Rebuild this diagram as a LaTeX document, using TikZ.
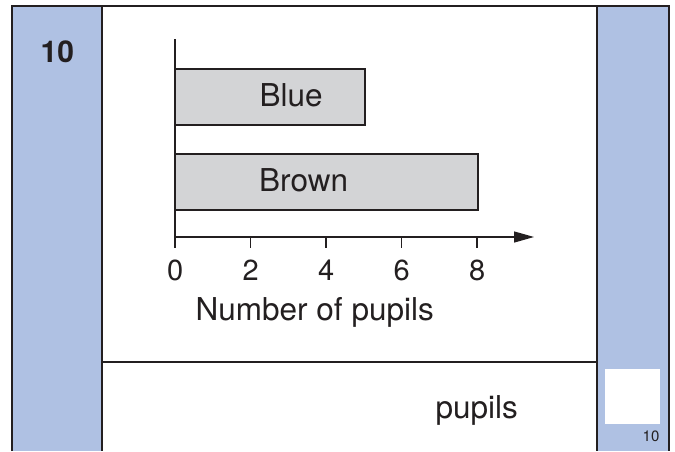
\documentclass[tikz,border=0pt]{standalone}
\usepackage{fontspec}
\setmainfont{TeX Gyre Heros}
\usetikzlibrary{arrows.meta}
\definecolor{panelblue}{RGB}{175,193,227}
\definecolor{bargrey}{RGB}{211,212,214}
\definecolor{ink}{RGB}{35,31,32}
\begin{document}
\begin{tikzpicture}[x=1pt,y=-1pt,
  frame/.style={draw=ink,line width=1.4pt},
  bar/.style={draw=ink,fill=bargrey,line width=1.3pt,inner sep=0pt},
  axis/.style={draw=ink,line width=1.3pt},
  lbl/.style={font=\fontsize{31.5}{36}\selectfont,text=ink,inner sep=0pt,anchor=base west},
  ticklbl/.style={font=\fontsize{29}{34}\selectfont,text=ink,inner sep=0pt,anchor=base},
]
\useasboundingbox (0,0) rectangle (675,451);
\fill[white] (0,0) rectangle (675,451);
% blue side columns
\fill[panelblue] (12,6) rectangle (102,451);
\fill[panelblue] (597,6) rectangle (669,451);
% frame lines
\draw[frame] (12,451) -- (12,6) -- (669,6) -- (669,451);
\draw[frame] (102,6) -- (102,451);
\draw[frame] (597,6) -- (597,451);
\draw[frame,line width=1.2pt] (102,362) -- (597,362);
% answer box
\fill[white] (605,369) rectangle (660,424);
\node[font=\fontsize{15}{18}\selectfont,text=ink,inner sep=0pt,anchor=base west] (mark) at (642.5,441.5) {10};
\node[font=\bfseries\fontsize{30}{36}\selectfont,text=ink,inner sep=0pt,anchor=base west] (qnum) at (40.5,62.3) {10};
% bars
\node[bar,minimum width=190pt,minimum height=56pt] (blue) at (270,97) {};
\node[lbl] (bluelbl) at (259.5,106.7) {Blue};
\node[bar,minimum width=303pt,minimum height=56pt] (brown) at (326.5,182) {};
\node[lbl] (brownlbl) at (259,191.7) {Brown};
% axes
\coordinate (ytop) at (175,39);
\coordinate (orig) at (175,237);
\coordinate (xend) at (534,237);
\draw[axis] (ytop) -- (orig);
\draw[axis,-{Triangle[length=20pt,width=11pt]}] (orig) -- (xend);
\foreach \v [count=\i from 0] in {0,2,4,6,8}{
  \coordinate (t\i) at ({175+37.75*\v},237);
  \draw[axis] (t\i) -- ++(0,11);
  \node[ticklbl] (tl\i) at ({175.3+37.75*\v},280.7) {\v};
}
\node[lbl] (xlabel) at (195.5,320) {Number of pupils};
\node[lbl] (ans) at (435.5,418) {pupils};
\end{tikzpicture}
\end{document}
